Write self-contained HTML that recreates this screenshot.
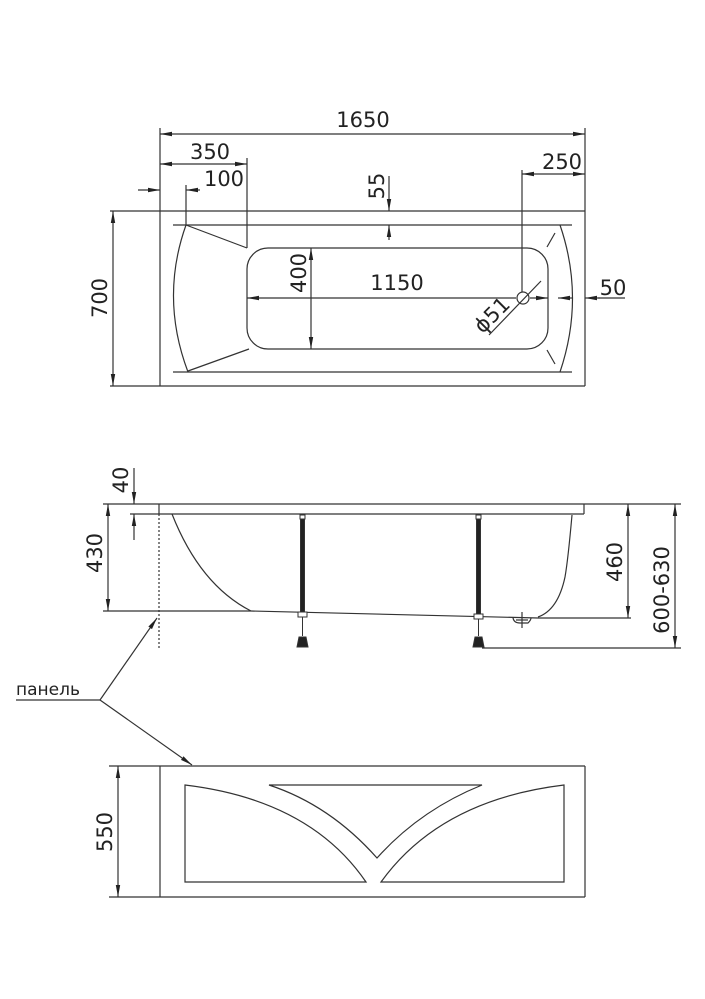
<!DOCTYPE html>
<html><head><meta charset="utf-8"><style>
html,body{margin:0;padding:0;background:#fff;}
svg{display:block;}
text{font-family:"DejaVu Sans","Liberation Sans",sans-serif;font-size:21px;fill:#222;}
</style></head><body>
<svg width="705" height="999" viewBox="0 0 705 999" xmlns="http://www.w3.org/2000/svg">
<defs>
<marker id="a" markerWidth="12" markerHeight="6" refX="12" refY="3" orient="auto-start-reverse" markerUnits="userSpaceOnUse">
<path d="M0,0.8 L12,3 L0,5.2 Z" fill="#222"/></marker>
</defs>
<g stroke="#333" stroke-width="1.2" fill="none">
<line x1="160" y1="128" x2="160" y2="386"/>
<line x1="585" y1="128" x2="585" y2="386"/>
<line x1="110" y1="211" x2="585" y2="211"/>
<line x1="110" y1="386" x2="585" y2="386"/>
<line x1="173" y1="225" x2="572" y2="225"/>
<line x1="173" y1="372" x2="572" y2="372"/>
<path d="M186,225 Q160,298 188,372"/>
<line x1="186" y1="225" x2="247" y2="248"/>
<line x1="188" y1="371" x2="249" y2="349"/>
<path d="M560,225 Q585,298 560,372"/>
<line x1="547" y1="247" x2="555" y2="233"/>
<line x1="547" y1="350" x2="555" y2="364"/>
<rect x="247" y="248" width="301" height="101" rx="21"/>
<line x1="160" y1="134" x2="585" y2="134" marker-start="url(#a)" marker-end="url(#a)"/>
<line x1="247" y1="158" x2="247" y2="248"/>
<line x1="160" y1="164" x2="247" y2="164" marker-start="url(#a)" marker-end="url(#a)"/>
<line x1="138" y1="190" x2="160" y2="190" marker-end="url(#a)"/>
<line x1="200" y1="190" x2="186" y2="190" marker-end="url(#a)"/>
<line x1="186" y1="185" x2="186" y2="225"/>
<line x1="389" y1="176" x2="389" y2="211" marker-end="url(#a)"/>
<line x1="389" y1="240" x2="389" y2="225" marker-end="url(#a)"/>
<line x1="522" y1="170" x2="522" y2="292"/>
<line x1="522" y1="174" x2="585" y2="174" marker-start="url(#a)" marker-end="url(#a)"/>
<line x1="311" y1="248" x2="311" y2="349" marker-start="url(#a)" marker-end="url(#a)"/>
<line x1="247" y1="298" x2="516" y2="298" marker-start="url(#a)"/>
<line x1="530" y1="298" x2="548" y2="298" marker-end="url(#a)"/>
<line x1="572" y1="298" x2="558" y2="298" marker-end="url(#a)"/>
<line x1="598" y1="298" x2="625" y2="298"/>
<line x1="600" y1="298" x2="585" y2="298" marker-end="url(#a)"/>
<circle cx="523" cy="298" r="6"/>
<line x1="489" y1="335" x2="541" y2="281"/>
<line x1="113" y1="211" x2="113" y2="386" marker-start="url(#a)" marker-end="url(#a)"/>
<line x1="103" y1="504" x2="681" y2="504"/>
<line x1="130" y1="514" x2="584" y2="514"/>
<line x1="159" y1="504" x2="159" y2="514"/>
<line x1="584" y1="504" x2="584" y2="514"/>
<line x1="159" y1="514" x2="159" y2="648" stroke-dasharray="2,2"/>
<path d="M172,514 Q200,585 251,611"/>
<line x1="103" y1="611" x2="251" y2="611"/>
<path d="M251,611 L538,618 L631,618"/>
<path d="M572,515 Q568,560 565,577 Q558,610 538,617"/>
<path d="M513,618 Q514,623 520,623 L528,623 Q531,620 531,618"/>
<line x1="522" y1="612" x2="522" y2="628"/>
<line x1="516" y1="620" x2="528" y2="620"/>
<line x1="108" y1="504" x2="108" y2="611" marker-start="url(#a)" marker-end="url(#a)"/>
<line x1="134" y1="468" x2="134" y2="504" marker-end="url(#a)"/>
<line x1="134" y1="540" x2="134" y2="514" marker-end="url(#a)"/>
<line x1="628" y1="504" x2="628" y2="618" marker-start="url(#a)" marker-end="url(#a)"/>
<line x1="675" y1="504" x2="675" y2="648" marker-start="url(#a)" marker-end="url(#a)"/>
<line x1="482" y1="648" x2="681" y2="648"/>
<line x1="109" y1="766" x2="585" y2="766"/>
<line x1="109" y1="897" x2="585" y2="897"/>
<line x1="160" y1="766" x2="160" y2="897"/>
<line x1="585" y1="766" x2="585" y2="897"/>
<line x1="118" y1="766" x2="118" y2="897" marker-start="url(#a)" marker-end="url(#a)"/>
<path d="M185,785 Q310,800 366,882 L185,882 Z"/>
<path d="M564,785 Q440,800 381,882 L564,882 Z"/>
<path d="M269,785 L482,785 Q420,810 377,858 Q330,805 269,785 Z"/>
<line x1="16" y1="700" x2="100" y2="700"/>
<line x1="100" y1="700" x2="157" y2="618" marker-end="url(#a)"/>
<line x1="100" y1="700" x2="192" y2="765" marker-end="url(#a)"/>
</g>
<g fill="#222" stroke="#333" stroke-width="1">
<rect x="300" y="515" width="5" height="4" fill="#fff"/>
<rect x="300.5" y="519" width="4" height="93"/>
<rect x="298" y="612" width="9" height="5" fill="#fff"/>
<line x1="302.5" y1="617" x2="302.5" y2="636"/>
<path d="M299,637 L306,637 L308,647 L297,647 Z"/>
<rect x="476" y="515" width="5" height="4" fill="#fff"/>
<rect x="476.5" y="519" width="4" height="95"/>
<rect x="474" y="614" width="9" height="5" fill="#fff"/>
<line x1="478.5" y1="619" x2="478.5" y2="636"/>
<path d="M475,637 L482,637 L484,647 L473,647 Z"/>
</g>
<text x="363" y="127" text-anchor="middle">1650</text>
<text x="210" y="159" text-anchor="middle">350</text>
<text x="224" y="186" text-anchor="middle">100</text>
<text x="562" y="169" text-anchor="middle">250</text>
<text x="397" y="290" text-anchor="middle">1150</text>
<text x="613" y="295" text-anchor="middle">50</text>
<text transform="translate(384,186) rotate(-90)" text-anchor="middle">55</text>
<text transform="translate(306,273) rotate(-90)" text-anchor="middle">400</text>
<text transform="translate(107,298) rotate(-90)" text-anchor="middle">700</text>
<text transform="translate(497,320) rotate(-45)" text-anchor="middle">ϕ51</text>
<text transform="translate(128,480) rotate(-90)" text-anchor="middle">40</text>
<text transform="translate(102,553) rotate(-90)" text-anchor="middle">430</text>
<text transform="translate(622,562) rotate(-90)" text-anchor="middle">460</text>
<text transform="translate(669,590) rotate(-90)" text-anchor="middle">600-630</text>
<text transform="translate(112,832) rotate(-90)" text-anchor="middle">550</text>
<text x="16" y="695" style="font-size:17px">панель</text>
</svg>
</body></html>
